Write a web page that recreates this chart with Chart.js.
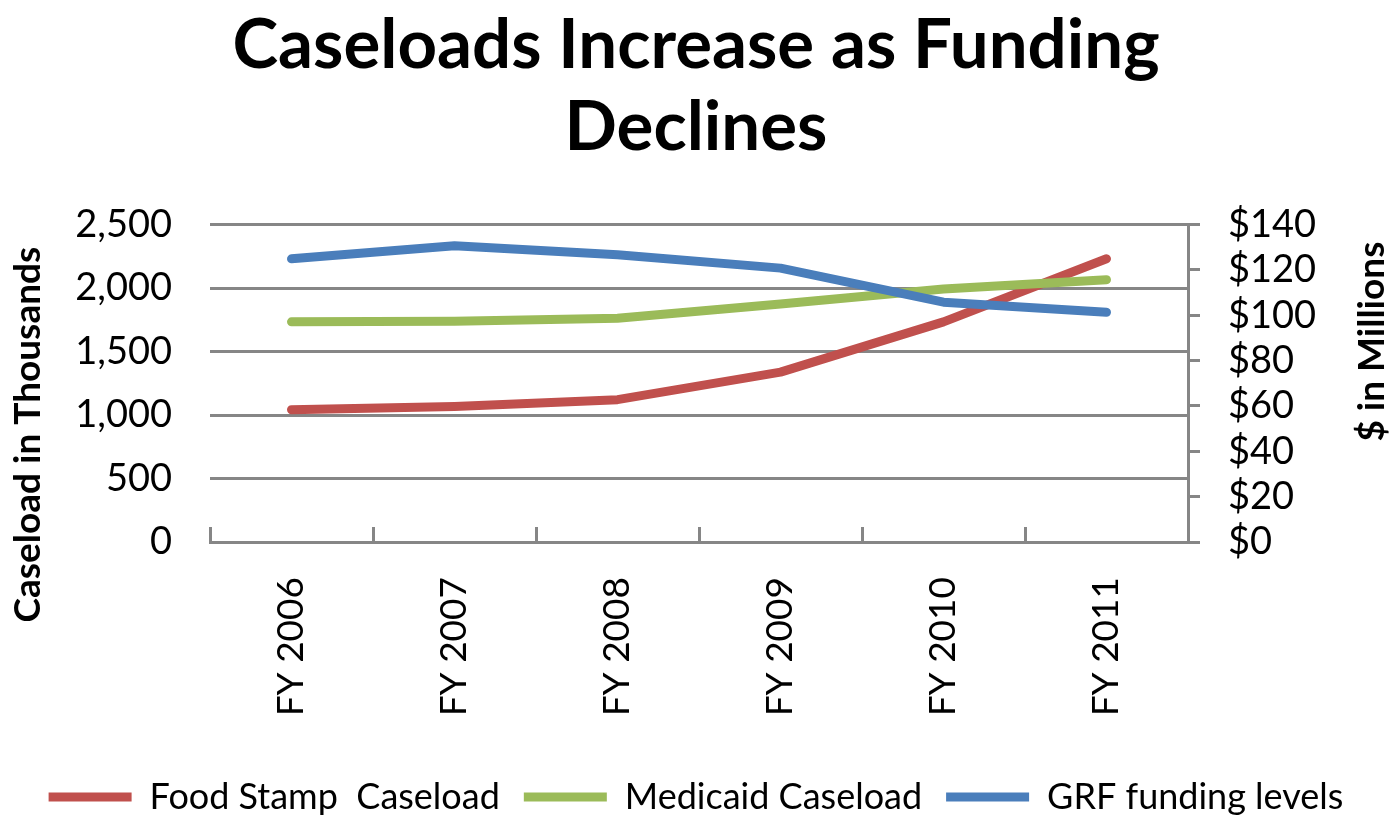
<!DOCTYPE html>
<html>
<head>
<meta charset="utf-8">
<script src="https://cdn.jsdelivr.net/npm/chart.js@4"></script>
<style>
	body { margin: 0; background: #fff; }
	canvas { display: block; }
</style>
</head>
<body>
<canvas id="grafico" width="1392" height="816"></canvas>
<script>
// Dados
const categorias = ["FY 2006", "FY 2007", "FY 2008", "FY 2009", "FY 2010", "FY 2011"];
const foodStamp = [1042, 1068, 1121, 1338, 1734, 2231];
const medicaid = [1734, 1739, 1763, 1874, 1993, 2066];
const grfFunding = [124.9, 130.7, 126.7, 120.8, 105.8, 101.3];

const FONTE = "Lato";
const CINZA = "#868686";

// Titulos dos eixos desenhados à mão (Excel centraliza diferente)
const axisTitles = {
	id: "axisTitles",
	afterDraw(chart) {
		const { ctx, chartArea } = chart;
		ctx.save();
		ctx.font = `bold 37px ${FONTE}`;
		ctx.fillStyle = "#000";
		ctx.textAlign = "center";
		ctx.textBaseline = "middle";

		ctx.save();
		ctx.translate(28, chartArea.top + 210);
		ctx.rotate(-Math.PI / 2);
		ctx.fillText("Caseload in Thousands", 0, 0);
		ctx.restore();

		ctx.save();
		ctx.translate(chart.width - 20, chartArea.top + 117);
		ctx.rotate(-Math.PI / 2);
		ctx.fillText("$ in Millions", 0, 0);
		ctx.restore();

		ctx.restore();
	}
};

function serie(label, data, cor, eixo, ordem) {
	return {
		label,
		data,
		yAxisID: eixo,
		borderColor: cor,
		backgroundColor: cor,
		borderWidth: 9,
		borderCapStyle: "round",
		borderJoinStyle: "round",
		pointRadius: 0,
		tension: 0,
		order: ordem
	};
}

new Chart(document.getElementById("grafico"), {
	type: "line",
	data: {
		labels: categorias,
		datasets: [
			serie("Food Stamp  Caseload", foodStamp, "#C0504D", "y", 3),
			serie("Medicaid Caseload", medicaid, "#9BBB59", "y", 2),
			serie("GRF funding levels", grfFunding, "#4A7EBB", "y1", 1)
		]
	},
	options: {
		responsive: false,
		animation: false,
		layout: { padding: { left: 10, right: 10, top: 0, bottom: -9 } },
		plugins: {
			title: {
				display: true,
				text: ["Caseloads Increase as Funding", "Declines"],
				color: "#000",
				font: { family: FONTE, size: 69, weight: "bold", lineHeight: 1.2 },
				padding: { top: 4, bottom: 55 }
			},
			legend: {
				position: "bottom",
				labels: {
					color: "#000",
					font: { family: FONTE, size: 36 },
					usePointStyle: true,
					pointStyle: "line",
					pointStyleWidth: 83,
					boxHeight: 8,
					padding: 24,
					sort: (a, b) => a.datasetIndex - b.datasetIndex
				}
			},
			tooltip: { enabled: false }
		},
		scales: {
			x: {
				offset: true,
				grid: {
					offset: true,
					drawOnChartArea: false,
					color: CINZA,
					lineWidth: 3,
					tickLength: -15
				},
				border: { display: true, color: CINZA, width: 3 },
				ticks: {
					color: "#000",
					font: { family: FONTE, size: 37 },
					minRotation: 90,
					maxRotation: 90,
					padding: 50
				},
				afterFit: (scale) => {
					scale.height = 213;
				}
			},
			y: {
				position: "left",
				min: 0,
				max: 2500,
				grid: { color: CINZA, lineWidth: 3, drawTicks: false },
				border: { display: false },
				ticks: {
					stepSize: 500,
					autoSkip: false,
					color: "#000",
					font: { family: FONTE, size: 38 },
					padding: 38,
					callback: (v) => v.toLocaleString("en-US")
				},
				afterFit: (scale) => {
					scale.width = 200;
				}
			},
			y1: {
				position: "right",
				min: 0,
				max: 140,
				grid: { drawOnChartArea: false, color: CINZA, lineWidth: 3, tickLength: 12 },
				border: { display: true, color: CINZA, width: 3 },
				ticks: {
					stepSize: 20,
					autoSkip: false,
					color: "#000",
					font: { family: FONTE, size: 38 },
					padding: 28,
					callback: (v) => "$" + v
				},
				afterFit: (scale) => {
					scale.width = 194;
				}
			}
		}
	},
	plugins: [axisTitles]
});
</script>
</body>
</html>
